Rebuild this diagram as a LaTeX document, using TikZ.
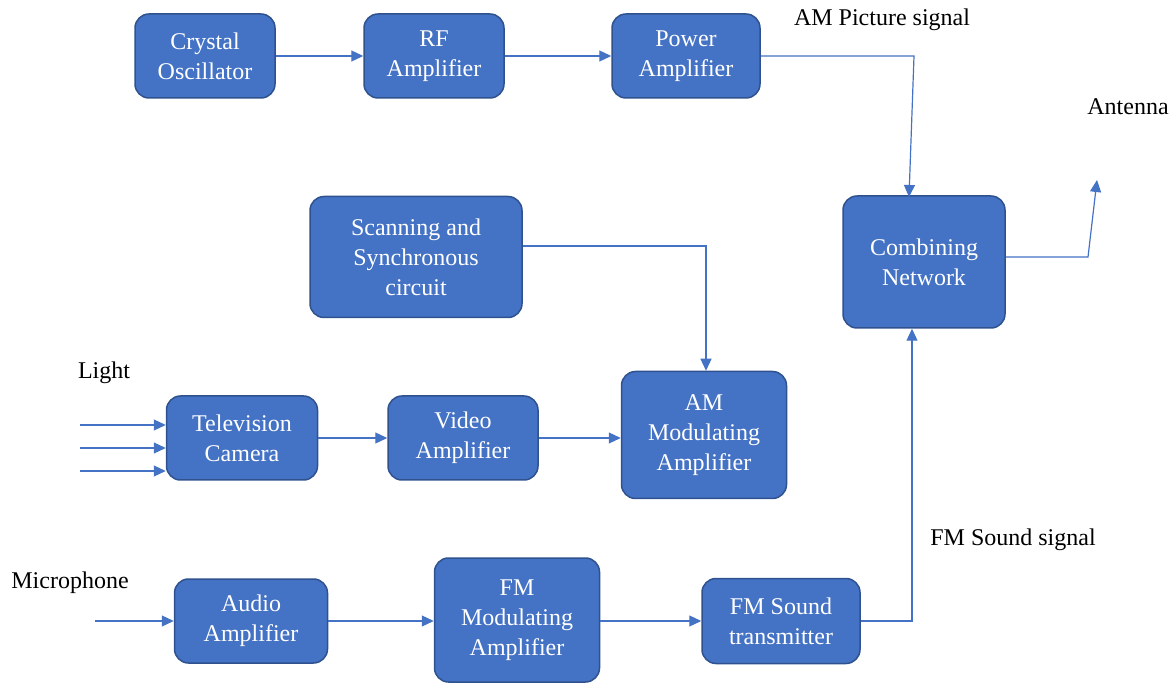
\documentclass[tikz,border=0pt]{standalone}
\usepackage{fontspec}
\setmainfont{Liberation Serif}
\usetikzlibrary{arrows.meta}
\definecolor{boxfill}{HTML}{4472C4}
\definecolor{boxline}{HTML}{2F528F}
\definecolor{wire}{HTML}{4472C4}
\begin{document}
\begin{tikzpicture}[x=1pt,y=-1pt,
  blk/.style={rectangle, rounded corners=14pt, fill=boxfill, draw=boxline, line width=1.5pt,
    text=white, align=center, inner sep=0pt,
    font=\fontsize{24}{30}\selectfont},
  lbl/.style={text=black, inner sep=0pt, font=\fontsize{24}{30}\selectfont},
  conn/.style={draw=wire, line width=1.2pt, -{Triangle[length=12pt,width=11pt]}},
  plain/.style={draw=wire, line width=1.2pt}]
\useasboundingbox (0,0) rectangle (1176,684);
% blocks
\node[blk, minimum width=140pt, minimum height=84pt] (xo) at (205,56) {Crystal\\Oscillator};
\node[blk, minimum width=140pt, minimum height=84pt] (rf) at (434,56) {RF\\Amplifier};
\node[blk, minimum width=148pt, minimum height=84pt] (pa) at (686,56) {Power\\Amplifier};
\node[blk, minimum width=162pt, minimum height=132pt] (cn) at (924,262) {Combining\\Network};
\node[blk, minimum width=212pt, minimum height=121pt] (sc) at (416,257) {Scanning and\\Synchronous\\circuit};
\node[blk, minimum width=151pt, minimum height=84pt] (tv) at (242,438) {Television\\Camera};
\node[blk, minimum width=150pt, minimum height=84pt] (va) at (463,438) {Video\\Amplifier};
\node[blk, minimum width=165pt, minimum height=127pt] (am) at (704,435) {AM\\Modulating\\Amplifier};
\node[blk, minimum width=153pt, minimum height=84pt] (aa) at (251,621) {Audio\\Amplifier};
\node[blk, minimum width=165pt, minimum height=124pt] (fm) at (517,620) {FM\\Modulating\\Amplifier};
\node[blk, minimum width=158pt, minimum height=85pt] (fs) at (781,621) {FM Sound\\transmitter};
% labels
\node[lbl] (lamp) at (882,20) {AM Picture signal};
\node[lbl] (lant) at (1128,107) {Antenna};
\node[lbl] (llig) at (104,373) {Light};
\node[lbl] (lmic) at (70,583) {Microphone};
\node[lbl] (lfms) at (1013,540) {FM Sound signal};
% free ends
\coordinate (l1) at (80,425);
\coordinate (l2) at (80,448);
\coordinate (l3) at (80,471);
\coordinate (m0) at (95,621);
\coordinate (antTip) at (1097,180);
% connectors
\draw[conn] (xo.east) -- (rf.west);
\draw[conn] (rf.east) -- (pa.west);
\draw[conn] (pa.east) -- (914,56) -- (909,197);
\draw[conn] (cn.east |- 0,257) -- (1088,257) -- (antTip);
\draw[conn] (sc.east |- 0,246) -- (706,246) -- (am.north -| 706,0);
\draw[conn] (l1) -- (tv.west |- l1);
\draw[conn] (l2) -- (tv.west |- l2);
\draw[conn] (l3) -- (tv.west |- l3);
\draw[conn] (tv.east) -- (va.west);
\draw[conn] (va.east) -- (am.west |- va.east);
\draw[conn] (m0) -- (aa.west);
\draw[conn] (aa.east) -- (fm.west |- aa.east);
\draw[conn] (fm.east |- fs.west) -- (fs.west);
\draw[conn] (fs.east) -- (912,621) -- (cn.south -| 912,0);
\end{tikzpicture}
\end{document}
